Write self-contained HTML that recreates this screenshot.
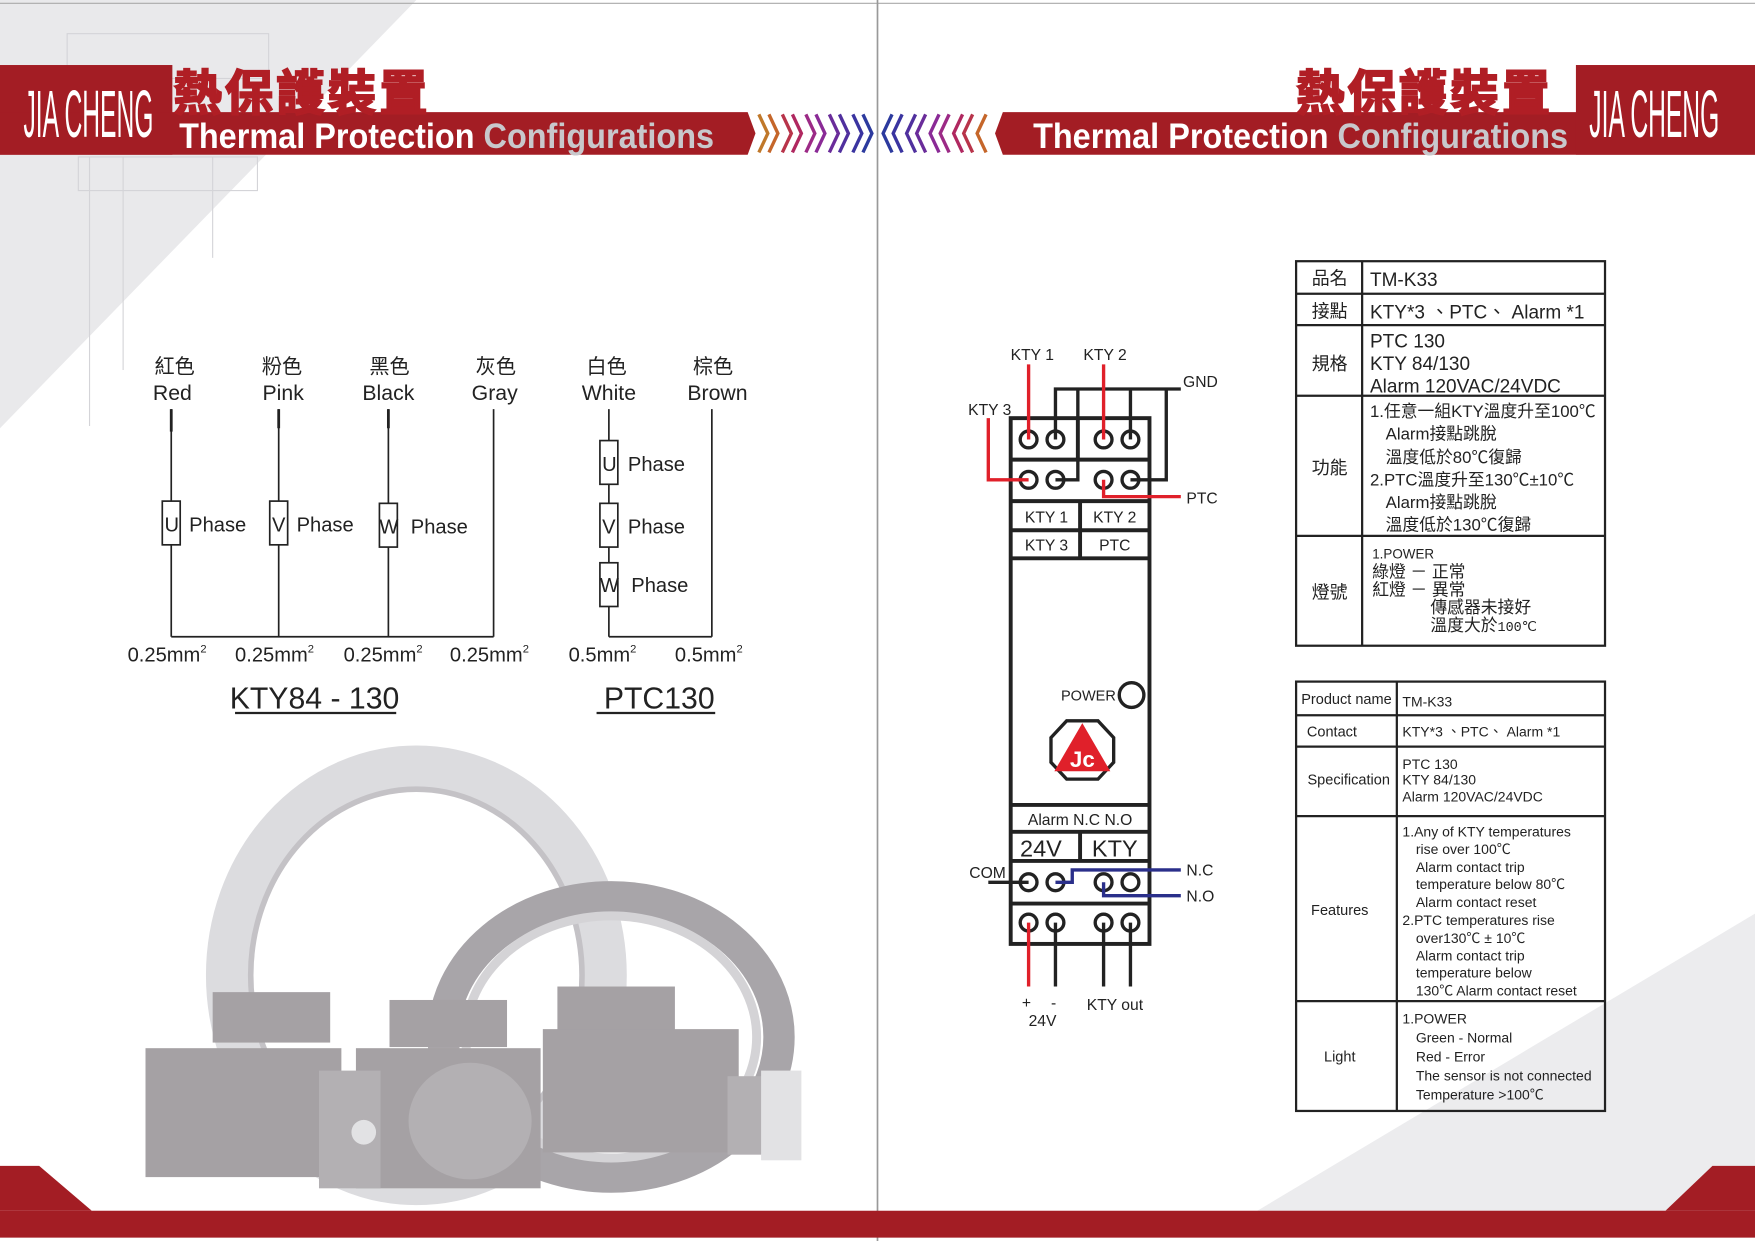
<!DOCTYPE html>
<html><head><meta charset="utf-8"><style>
html,body{margin:0;padding:0;background:#fff;}
svg{display:block;}
text{font-family:"Liberation Sans","Noto Sans CJK TC",sans-serif;}
.cj{font-family:"Liberation Sans","Noto Sans CJK TC",sans-serif;}
</style></head><body>
<svg width="1755" height="1241" viewBox="0 0 1568 1107" preserveAspectRatio="none" xmlns="http://www.w3.org/2000/svg">
<rect width="1568" height="1107" fill="#fff"/>
<polygon points="0,0 372,0 0,382" fill="#e9e9eb"/>
<polygon points="1568,815 1568,1082 1120,1082" fill="#ececee"/>
<line x1="0" y1="3" x2="1568" y2="3" stroke="#aaa" stroke-width="1"/>
<line x1="784" y1="0" x2="784" y2="1107" stroke="#999" stroke-width="1.5"/>
<g stroke="#d4d4d8" stroke-width="1" fill="none">
<rect x="60" y="30" width="180" height="40"/><rect x="70" y="140" width="160" height="30"/>
<line x1="80" y1="140" x2="80" y2="380"/><line x1="110" y1="140" x2="110" y2="330"/><line x1="190" y1="140" x2="190" y2="230"/>
</g>

<!-- header left -->
<rect x="0" y="58" width="154" height="80" fill="#a31d24"/>
<polygon points="0,100 668,100 675,119 668,138 0,138" fill="#a31d24"/>
<text transform="translate(79,122) scale(0.5,1.35)" text-anchor="middle" font-size="44" fill="#fff">JIA CHENG</text>
<text x="155" y="98" font-size="43" font-weight="bold" fill="#b01e25" stroke="#b01e25" stroke-width="1.8" class="cj" style="letter-spacing:3px">熱保護裝置</text>
<text x="160" y="132" font-size="31" font-weight="bold" fill="#fff" textLength="478" lengthAdjust="spacingAndGlyphs">Thermal Protection <tspan fill="#c8c8cc">Configurations</tspan></text>
<g fill="none" stroke-width="3">
<polyline points="678,102 686,119 678,136" stroke="#c0782a"/><polyline points="687,102 695,119 687,136" stroke="#c5662a"/>
<polyline points="699,102 707,119 699,136" stroke="#b8344a"/><polyline points="708,102 716,119 708,136" stroke="#b02860"/>
<polyline points="720,102 728,119 720,136" stroke="#9c2a86"/><polyline points="729,102 737,119 729,136" stroke="#8a2a96"/>
<polyline points="741,102 749,119 741,136" stroke="#6a2c9a"/><polyline points="750,102 758,119 750,136" stroke="#50309e"/>
<polyline points="762,102 770,119 762,136" stroke="#3a34a0"/><polyline points="771,102 779,119 771,136" stroke="#2c3a9e"/>
<polyline points="797,102 789,119 797,136" stroke="#2c3a9e"/><polyline points="806,102 798,119 806,136" stroke="#3a34a0"/>
<polyline points="818,102 810,119 818,136" stroke="#50309e"/><polyline points="827,102 819,119 827,136" stroke="#6a2c9a"/>
<polyline points="839,102 831,119 839,136" stroke="#8a2a96"/><polyline points="848,102 840,119 848,136" stroke="#9c2a86"/>
<polyline points="860,102 852,119 860,136" stroke="#b02860"/><polyline points="869,102 861,119 869,136" stroke="#b8344a"/>
<polyline points="881,102 873,119 881,136" stroke="#c5662a"/>
</g>
<!-- header right -->
<polygon points="896,100 1568,100 1568,138 896,138 889,119" fill="#a31d24"/>
<rect x="1408" y="58" width="160" height="80" fill="#a31d24"/>
<text x="1158" y="98" font-size="43" font-weight="bold" fill="#b01e25" stroke="#b01e25" stroke-width="1.8" class="cj" style="letter-spacing:3px">熱保護裝置</text>
<text x="923" y="132" font-size="31" font-weight="bold" fill="#fff" textLength="478" lengthAdjust="spacingAndGlyphs">Thermal Protection <tspan fill="#c8c8cc">Configurations</tspan></text>
<text transform="translate(1478,122) scale(0.5,1.35)" text-anchor="middle" font-size="44" fill="#fff">JIA CHENG</text>

<!-- bottom band -->
<polygon points="0,1040 35,1040 82,1080 0,1080" fill="#a31d24"/>
<polygon points="1530,1040 1568,1040 1568,1080 1488,1080" fill="#a31d24"/>
<rect x="0" y="1080" width="1568" height="24" fill="#a31d24"/>

<!-- KTY wiring -->
<g font-size="18" fill="#222" text-anchor="middle" class="cj">
<text x="156" y="333">紅色</text><text x="252" y="333">粉色</text><text x="348" y="333">黑色</text><text x="443" y="333">灰色</text>
<text x="542" y="333">白色</text><text x="637" y="333">棕色</text>
</g>
<g font-size="19" fill="#222" text-anchor="middle">
<text x="154" y="357">Red</text><text x="253" y="357">Pink</text><text x="347" y="357">Black</text><text x="442" y="357">Gray</text>
<text x="544" y="357">White</text><text x="641" y="357">Brown</text>
</g>
<g stroke="#222" stroke-width="1.5" fill="none">
<line x1="153" y1="365" x2="153" y2="568"/><line x1="249" y1="365" x2="249" y2="568"/><line x1="347" y1="365" x2="347" y2="568"/><line x1="441" y1="365" x2="441" y2="568"/>
<line x1="153" y1="568" x2="441" y2="568"/>
<line x1="544" y1="365" x2="544" y2="568"/><line x1="636" y1="365" x2="636" y2="568"/><line x1="544" y1="568" x2="636" y2="568"/>
</g>
<g stroke="#222" stroke-width="2.5"><line x1="153" y1="365" x2="153" y2="385"/><line x1="249" y1="365" x2="249" y2="382"/><line x1="347" y1="365" x2="347" y2="382"/></g>
<g stroke="#222" stroke-width="1.5" fill="#fff">
<rect x="145" y="447" width="16" height="39"/><rect x="241" y="447" width="16" height="39"/><rect x="339" y="449" width="16" height="39"/>
<rect x="536" y="393" width="16" height="39"/><rect x="536" y="449" width="16" height="39"/><rect x="536" y="502" width="16" height="39"/>
</g>
<g font-size="18" fill="#222">
<text x="147" y="474">U</text><text x="169" y="474">Phase</text>
<text x="243" y="474">V</text><text x="265" y="474">Phase</text>
<text x="339" y="476">W</text><text x="367" y="476">Phase</text>
<text x="538" y="420">U</text><text x="561" y="420">Phase</text>
<text x="538" y="476">V</text><text x="561" y="476">Phase</text>
<text x="536" y="528">W</text><text x="564" y="528">Phase</text>
</g>
<g font-size="18" fill="#222">
<text x="114" y="590">0.25mm<tspan font-size="10" dy="-8">2</tspan></text>
<text x="210" y="590">0.25mm<tspan font-size="10" dy="-8">2</tspan></text>
<text x="307" y="590">0.25mm<tspan font-size="10" dy="-8">2</tspan></text>
<text x="402" y="590">0.25mm<tspan font-size="10" dy="-8">2</tspan></text>
<text x="508" y="590">0.5mm<tspan font-size="10" dy="-8">2</tspan></text>
<text x="603" y="590">0.5mm<tspan font-size="10" dy="-8">2</tspan></text>
</g>
<text x="281" y="632" font-size="27" fill="#222" text-anchor="middle">KTY84 - 130</text>
<line x1="210" y1="636" x2="354" y2="636" stroke="#222" stroke-width="2"/>
<text x="589" y="632" font-size="27" fill="#222" text-anchor="middle">PTC130</text>
<line x1="533" y1="636" x2="639" y2="636" stroke="#222" stroke-width="2"/>

<!-- motor image approximation -->
<ellipse cx="372" cy="870" rx="168" ry="185" fill="none" stroke="#dcdcdf" stroke-width="40"/>
<ellipse cx="372" cy="870" rx="148" ry="166" fill="none" stroke="#c4c2c6" stroke-width="5"/>
<ellipse cx="546" cy="925" rx="150" ry="125" fill="none" stroke="#a8a5a9" stroke-width="28"/>
<ellipse cx="546" cy="925" rx="130" ry="108" fill="none" stroke="#d4d3d6" stroke-width="8"/>
<g fill="#a5a1a4">
<rect x="190" y="885" width="105" height="45"/><rect x="348" y="892" width="105" height="42"/><rect x="498" y="880" width="105" height="42"/>
<rect x="130" y="935" width="175" height="115"/><rect x="318" y="935" width="165" height="125"/><rect x="485" y="918" width="175" height="110"/>
</g>
<g fill="#b3b0b3"><rect x="285" y="955" width="55" height="105"/><ellipse cx="420" cy="1000" rx="55" ry="52"/><rect x="650" y="960" width="62" height="70"/></g>
<g fill="#e2e2e4"><rect x="680" y="955" width="36" height="80"/><circle cx="325" cy="1010" r="11"/></g>

<!-- device -->
<g stroke="#222" stroke-width="3.5" fill="none">
<rect x="903" y="373" width="124" height="469"/>
<line x1="903" y1="410" x2="1027" y2="410"/><line x1="903" y1="447" x2="1027" y2="447"/>
<line x1="903" y1="473" x2="1027" y2="473"/><line x1="903" y1="498" x2="1027" y2="498"/>
<line x1="963" y1="373" x2="963" y2="410"/><line x1="965" y1="447" x2="965" y2="498"/>
<line x1="903" y1="718" x2="1027" y2="718"/><line x1="903" y1="742" x2="1027" y2="742"/><line x1="903" y1="768" x2="1027" y2="768"/>
<line x1="965" y1="742" x2="965" y2="768"/><line x1="903" y1="806" x2="1027" y2="806"/>
</g>
<g stroke="#222" stroke-width="3" fill="#fff">
<circle cx="919" cy="392" r="7.5"/><circle cx="943" cy="392" r="7.5"/><circle cx="986" cy="392" r="7.5"/><circle cx="1010" cy="392" r="7.5"/>
<circle cx="919" cy="428" r="7.5"/><circle cx="943" cy="428" r="7.5"/><circle cx="986" cy="428" r="7.5"/><circle cx="1010" cy="428" r="7.5"/>
<circle cx="919" cy="787" r="7.5"/><circle cx="943" cy="787" r="7.5"/><circle cx="986" cy="787" r="7.5"/><circle cx="1010" cy="787" r="7.5"/>
<circle cx="919" cy="823" r="7.5"/><circle cx="943" cy="823" r="7.5"/><circle cx="986" cy="823" r="7.5"/><circle cx="1010" cy="823" r="7.5"/>
<circle cx="1011" cy="620" r="11"/>
</g>
<g stroke="#222" stroke-width="3" fill="none">
<polyline points="943,392 943,347 1055,347"/>
<polyline points="963,347 963,428 943,428"/>
<line x1="1010" y1="347" x2="1010" y2="392"/>
<polyline points="1042,347 1042,428 1010,428"/>
<line x1="883" y1="787" x2="919" y2="787"/>
<line x1="943" y1="823" x2="943" y2="880"/><line x1="986" y1="823" x2="986" y2="880"/><line x1="1010" y1="823" x2="1010" y2="880"/>
</g>
<g stroke="#e0202a" stroke-width="3" fill="none">
<line x1="919" y1="325" x2="919" y2="392"/><line x1="986" y1="325" x2="986" y2="392"/>
<polyline points="919,428 883,428 883,373"/>
<polyline points="986,428 986,443 1055,443"/>
<line x1="919" y1="823" x2="919" y2="880"/>
</g>
<g stroke="#2a2f8a" stroke-width="3" fill="none">
<polyline points="943,787 958,787 958,776 1055,776"/>
<polyline points="986,787 986,799 1055,799"/>
</g>
<g font-size="14" fill="#222">
<text x="903" y="321">KTY 1</text><text x="968" y="321">KTY 2</text><text x="1057" y="345">GND</text>
<text x="865" y="370">KTY 3</text><text x="1060" y="449">PTC</text>
<text x="866" y="783">COM</text><text x="1060" y="781">N.C</text><text x="1060" y="804">N.O</text>
<text x="913" y="899">+</text><text x="939" y="899">-</text><text x="919" y="915">24V</text><text x="971" y="901">KTY out</text>
</g>
<g font-size="14" fill="#222" text-anchor="middle">
<text x="935" y="466">KTY 1</text><text x="996" y="466">KTY 2</text>
<text x="935" y="491">KTY 3</text><text x="996" y="491">PTC</text>
<text x="965" y="736">Alarm N.C N.O</text>
</g>
<text x="930" y="764" font-size="21" fill="#222" text-anchor="middle">24V</text>
<text x="996" y="764" font-size="21" fill="#222" text-anchor="middle">KTY</text>
<text x="997" y="625" font-size="13" fill="#222" text-anchor="end">POWER</text>
<polygon points="953,643 981,643 995,658 995,680 981,695 953,695 939,680 939,658" fill="#fff" stroke="#222" stroke-width="3"/>
<polygon points="967,645 992,688 942,688" fill="#e0202a"/>
<text x="967" y="684" font-size="20" font-weight="bold" fill="#fff" text-anchor="middle" font-family="Liberation Serif,serif">Jc</text>

<!-- Chinese table -->
<g stroke="#222" stroke-width="2" fill="none">
<rect x="1158" y="233" width="276" height="343"/>
<line x1="1217" y1="233" x2="1217" y2="576"/>
<line x1="1158" y1="262" x2="1434" y2="262"/><line x1="1158" y1="290" x2="1434" y2="290"/>
<line x1="1158" y1="353" x2="1434" y2="353"/><line x1="1158" y1="478" x2="1434" y2="478"/>
</g>
<g font-size="16" fill="#222" class="cj" text-anchor="middle">
<text x="1188" y="254">品名</text><text x="1188" y="283">接點</text><text x="1188" y="330">規格</text><text x="1188" y="423">功能</text><text x="1188" y="534">燈號</text>
</g>
<g font-size="17" fill="#222" class="cj">
<text x="1224" y="255">TM-K33</text>
<text x="1224" y="284">KTY*3 、PTC、 Alarm *1</text>
<text x="1224" y="310">PTC 130</text><text x="1224" y="330">KTY 84/130</text><text x="1224" y="350">Alarm 120VAC/24VDC</text>
</g>
<g font-size="15" fill="#222" class="cj">
<text x="1224" y="372">1.任意一組KTY溫度升至100℃</text>
<text x="1238" y="392">Alarm接點跳脫</text>
<text x="1238" y="413">溫度低於80℃復歸</text>
<text x="1224" y="433">2.PTC溫度升至130℃±10℃</text>
<text x="1238" y="453">Alarm接點跳脫</text>
<text x="1238" y="473">溫度低於130℃復歸</text>
<text x="1226" y="498" font-size="12" font-family="Liberation Mono,monospace">1.POWER</text>
<text x="1226" y="515">綠燈 － 正常</text>
<text x="1226" y="531">紅燈 － 異常</text>
<text x="1278" y="547">傳感器未接好</text>
<text x="1278" y="563">溫度大於<tspan font-size="12" font-family="Liberation Mono,monospace">100℃</tspan></text>
</g>

<!-- English table -->
<g stroke="#222" stroke-width="2" fill="none">
<rect x="1158" y="608" width="276" height="383"/>
<line x1="1248" y1="608" x2="1248" y2="991"/>
<line x1="1158" y1="638" x2="1434" y2="638"/><line x1="1158" y1="666" x2="1434" y2="666"/>
<line x1="1158" y1="728" x2="1434" y2="728"/><line x1="1158" y1="893" x2="1434" y2="893"/>
</g>
<g font-size="13" fill="#222" text-anchor="middle">
<text x="1203" y="628">Product name</text><text x="1190" y="657">Contact</text><text x="1205" y="700">Specification</text><text x="1197" y="816">Features</text><text x="1197" y="947">Light</text>
</g>
<g font-size="12.5" fill="#222">
<text x="1253" y="630">TM-K33</text>
<text x="1253" y="657">KTY*3 、PTC、 Alarm *1</text>
<text x="1253" y="686">PTC 130</text><text x="1253" y="700">KTY 84/130</text><text x="1253" y="715">Alarm 120VAC/24VDC</text>
<text x="1253" y="746">1.Any of KTY temperatures</text>
<text x="1265" y="762">rise over 100℃</text>
<text x="1265" y="778">Alarm contact trip</text>
<text x="1265" y="793">temperature below 80℃</text>
<text x="1265" y="809">Alarm contact reset</text>
<text x="1253" y="825">2.PTC temperatures rise</text>
<text x="1265" y="841">over130℃ ± 10℃</text>
<text x="1265" y="857">Alarm contact trip</text>
<text x="1265" y="872">temperature below</text>
<text x="1265" y="888">130℃ Alarm contact reset</text>
<text x="1253" y="913">1.POWER</text>
<text x="1265" y="930">Green - Normal</text>
<text x="1265" y="947">Red - Error</text>
<text x="1265" y="964">The sensor is not connected</text>
<text x="1265" y="981">Temperature &gt;100℃</text>
</g>
</svg>
</body></html>
